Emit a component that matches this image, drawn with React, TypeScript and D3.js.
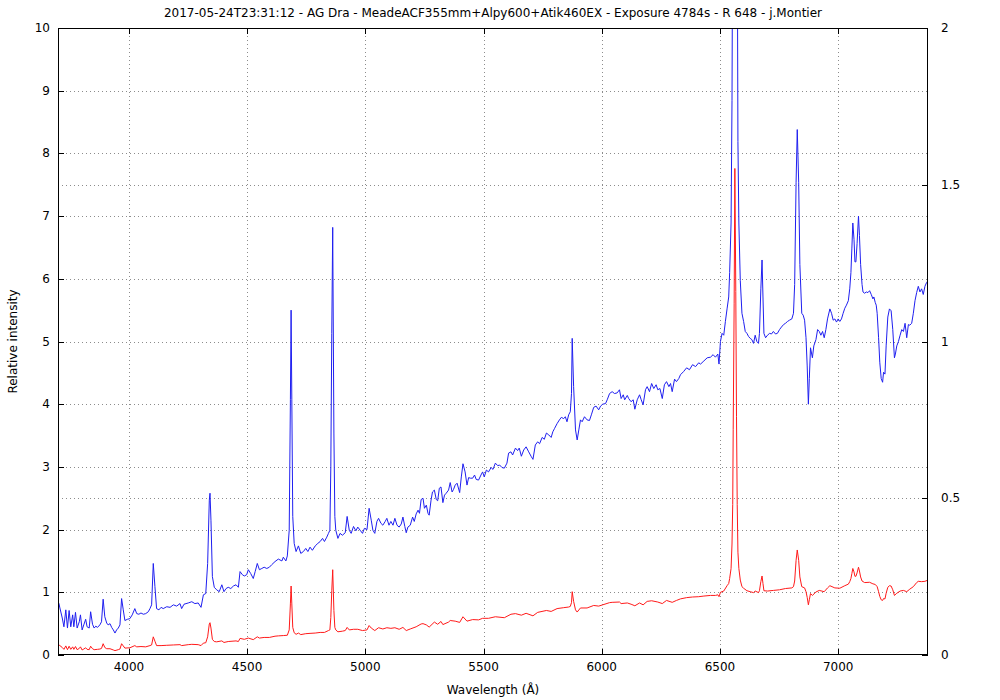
import React from "react";
import * as d3 from "d3";

const chartTitle =
  "2017-05-24T23:31:12 - AG Dra - MeadeACF355mm+Alpy600+Atik460EX - Exposure 4784s - R 648 - j.Montier";
const xAxisTitle = "Wavelength (Å)";
const yAxisTitle = "Relative intensity";

const xTicks = [4000, 4500, 5000, 5500, 6000, 6500, 7000];
const yTicks = [0, 1, 2, 3, 4, 5, 6, 7, 8, 9, 10];
const y2Ticks = [0, 0.5, 1, 1.5, 2];
const xDomain: [number, number] = [3700, 7380];
const yDomain: [number, number] = [0, 10];
const y2Domain: [number, number] = [0, 2];

// Blue spectrum (left axis): [wavelength Å, relative intensity]
const blueSpectrum: [number, number][] = [
  [3700, 0.85], [3704, 0.82], [3708, 0.75], [3718, 0.59], [3725, 0.45], [3733, 0.72], [3740, 0.43],
  [3747, 0.71], [3754, 0.45], [3762, 0.64], [3767, 0.45], [3774, 0.68], [3781, 0.43], [3790, 0.53],
  [3795, 0.64], [3802, 0.40], [3809, 0.48], [3817, 0.57], [3823, 0.45], [3832, 0.43], [3838, 0.69],
  [3846, 0.49], [3853, 0.43], [3860, 0.46], [3867, 0.44], [3877, 0.48], [3884, 0.53], [3891, 0.89],
  [3898, 0.61], [3906, 0.51], [3912, 0.48], [3920, 0.50], [3927, 0.44], [3934, 0.40], [3941, 0.35],
  [3948, 0.40], [3955, 0.43], [3962, 0.48], [3969, 0.90], [3976, 0.72], [3983, 0.55], [3994, 0.57],
  [4004, 0.58], [4014, 0.64], [4025, 0.74], [4033, 0.66], [4042, 0.65], [4051, 0.67], [4061, 0.65],
  [4071, 0.66], [4082, 0.69], [4089, 0.74], [4096, 0.80], [4103, 1.46], [4110, 1.09], [4117, 0.74],
  [4127, 0.72], [4136, 0.76], [4145, 0.74], [4160, 0.77], [4174, 0.76], [4188, 0.80], [4202, 0.78],
  [4216, 0.82], [4223, 0.74], [4233, 0.81], [4251, 0.83], [4266, 0.85], [4279, 0.82], [4293, 0.83],
  [4305, 0.76], [4315, 0.96], [4325, 0.98], [4333, 1.46], [4340, 2.47], [4343, 2.58], [4347, 2.15],
  [4353, 1.25], [4361, 1.08], [4371, 1.04], [4382, 1.01], [4393, 1.12], [4402, 1.01], [4411, 1.06],
  [4420, 1.08], [4431, 1.06], [4442, 1.10], [4453, 1.12], [4463, 1.08], [4470, 1.33], [4480, 1.28],
  [4488, 1.26], [4498, 1.28], [4505, 1.36], [4515, 1.30], [4526, 1.22], [4534, 1.33], [4543, 1.46],
  [4552, 1.36], [4562, 1.38], [4572, 1.40], [4583, 1.38], [4594, 1.40], [4604, 1.44], [4618, 1.49],
  [4632, 1.53], [4647, 1.50], [4653, 1.56], [4664, 1.50], [4670, 1.58], [4678, 1.99], [4683, 4.07],
  [4686, 5.50], [4689, 4.07], [4693, 2.21], [4699, 1.78], [4707, 1.65], [4717, 1.74], [4727, 1.62],
  [4738, 1.65], [4748, 1.70], [4757, 1.65], [4766, 1.72], [4776, 1.67], [4788, 1.74], [4799, 1.78],
  [4809, 1.81], [4819, 1.86], [4827, 1.81], [4837, 1.88], [4844, 1.94], [4850, 1.99], [4854, 3.00],
  [4858, 5.13], [4862, 6.82], [4867, 3.54], [4871, 2.21], [4875, 1.99], [4884, 1.86], [4893, 1.94],
  [4903, 1.91], [4915, 1.95], [4923, 2.21], [4932, 1.99], [4940, 1.94], [4950, 2.05], [4960, 1.98],
  [4968, 2.04], [4978, 1.99], [4988, 1.94], [4996, 2.02], [5007, 2.00], [5016, 2.34], [5025, 2.15],
  [5032, 1.99], [5040, 1.94], [5049, 2.13], [5056, 2.18], [5066, 2.10], [5074, 2.07], [5084, 2.13],
  [5091, 2.18], [5100, 2.07], [5108, 2.13], [5117, 2.07], [5125, 2.18], [5134, 2.07], [5143, 2.04],
  [5152, 2.09], [5159, 2.20], [5167, 2.05], [5173, 1.95], [5180, 2.04], [5190, 2.07], [5200, 2.20],
  [5207, 2.13], [5215, 2.25], [5223, 2.31], [5229, 2.26], [5236, 2.48], [5244, 2.50], [5250, 2.34],
  [5258, 2.39], [5265, 2.26], [5270, 2.23], [5278, 2.47], [5284, 2.60], [5292, 2.63], [5300, 2.48],
  [5306, 2.46], [5313, 2.66], [5320, 2.68], [5328, 2.43], [5335, 2.55], [5342, 2.58], [5352, 2.63],
  [5359, 2.75], [5367, 2.60], [5373, 2.64], [5380, 2.71], [5388, 2.74], [5399, 2.59], [5406, 2.84],
  [5413, 3.05], [5422, 2.92], [5430, 2.71], [5437, 2.83], [5444, 2.82], [5454, 2.82], [5462, 2.87],
  [5469, 2.80], [5479, 2.79], [5489, 2.87], [5496, 2.92], [5503, 2.84], [5512, 2.95], [5521, 2.92],
  [5532, 2.99], [5540, 2.96], [5550, 3.06], [5560, 3.02], [5568, 3.03], [5578, 2.99], [5588, 2.98],
  [5599, 3.06], [5606, 3.22], [5616, 3.24], [5623, 3.19], [5635, 3.30], [5644, 3.26], [5651, 3.30],
  [5660, 3.17], [5670, 3.27], [5680, 3.32], [5691, 3.24], [5701, 3.17], [5709, 3.12], [5719, 3.35],
  [5729, 3.40], [5737, 3.37], [5748, 3.47], [5757, 3.44], [5766, 3.54], [5776, 3.51], [5786, 3.47],
  [5793, 3.56], [5800, 3.61], [5811, 3.69], [5821, 3.75], [5829, 3.79], [5839, 3.77], [5846, 3.80],
  [5853, 3.72], [5860, 3.83], [5867, 3.88], [5872, 4.17], [5875, 5.05], [5881, 4.28], [5889, 3.59],
  [5896, 3.43], [5903, 3.59], [5910, 3.75], [5917, 3.72], [5927, 3.80], [5938, 3.75], [5948, 3.74],
  [5956, 3.83], [5966, 3.95], [5976, 3.97], [5987, 3.91], [5995, 3.97], [6004, 4.00], [6016, 4.01],
  [6023, 4.07], [6033, 4.17], [6044, 4.20], [6054, 4.17], [6065, 4.18], [6075, 4.23], [6082, 4.09],
  [6091, 4.15], [6097, 4.07], [6108, 4.14], [6114, 4.09], [6124, 4.04], [6133, 4.07], [6140, 3.92],
  [6150, 4.07], [6160, 4.15], [6167, 4.07], [6175, 3.99], [6185, 4.23], [6192, 4.28], [6202, 4.20],
  [6211, 4.33], [6220, 4.25], [6230, 4.31], [6237, 4.23], [6246, 4.25], [6256, 4.09], [6265, 4.31],
  [6274, 4.36], [6284, 4.28], [6291, 4.33], [6298, 4.20], [6308, 4.40], [6316, 4.36], [6326, 4.41],
  [6333, 4.47], [6346, 4.52], [6359, 4.58], [6371, 4.55], [6384, 4.63], [6397, 4.60], [6410, 4.66],
  [6418, 4.64], [6432, 4.69], [6446, 4.74], [6460, 4.75], [6471, 4.79], [6481, 4.75], [6491, 4.80],
  [6496, 4.64], [6502, 5.00], [6509, 5.13], [6516, 5.10], [6523, 5.32], [6530, 5.52], [6537, 5.71],
  [6541, 6.10], [6547, 6.89], [6551, 8.84], [6554, 12.0], [6556, 18.0], [6560, 28.0], [6563, 38.8],
  [6567, 29.0], [6570, 19.0], [6573, 12.0], [6576, 8.19], [6580, 6.89], [6586, 5.97], [6593, 5.45],
  [6600, 5.32], [6607, 5.16], [6614, 5.13], [6621, 5.08], [6628, 5.05], [6635, 5.03], [6642, 4.97],
  [6649, 5.10], [6656, 5.00], [6663, 4.97], [6667, 5.13], [6673, 5.84], [6678, 6.30], [6682, 5.71],
  [6686, 5.13], [6693, 5.06], [6701, 5.10], [6710, 5.13], [6718, 5.12], [6726, 5.16], [6735, 5.12],
  [6743, 5.13], [6752, 5.19], [6760, 5.23], [6769, 5.27], [6777, 5.29], [6786, 5.32], [6794, 5.34],
  [6804, 5.36], [6811, 5.45], [6816, 5.91], [6822, 7.54], [6827, 8.38], [6833, 7.54], [6838, 6.23],
  [6846, 5.45], [6852, 5.42], [6858, 5.34], [6864, 5.06], [6869, 4.61], [6874, 4.00], [6878, 4.41],
  [6883, 4.90], [6891, 4.74], [6897, 4.93], [6906, 5.03], [6913, 5.19], [6920, 5.16], [6927, 5.10],
  [6934, 5.16], [6941, 5.06], [6948, 5.19], [6955, 5.36], [6965, 5.52], [6972, 5.45], [6979, 5.34],
  [6986, 5.36], [6993, 5.31], [7000, 5.36], [7007, 5.32], [7014, 5.36], [7021, 5.45], [7028, 5.53],
  [7035, 5.58], [7043, 5.65], [7049, 5.84], [7054, 6.10], [7058, 6.49], [7062, 6.89], [7067, 6.63],
  [7071, 6.27], [7075, 6.27], [7080, 6.56], [7086, 7.00], [7090, 6.69], [7095, 6.23], [7101, 5.91],
  [7105, 5.79], [7112, 5.77], [7119, 5.79], [7126, 5.78], [7133, 5.81], [7140, 5.75], [7147, 5.68],
  [7151, 5.71], [7157, 5.62], [7161, 5.58], [7165, 5.45], [7171, 5.06], [7176, 4.67], [7182, 4.41],
  [7188, 4.35], [7192, 4.51], [7198, 4.48], [7203, 4.93], [7210, 5.39], [7217, 5.52], [7224, 5.49],
  [7231, 5.19], [7238, 4.74], [7242, 4.80], [7248, 4.93], [7255, 5.00], [7262, 5.10], [7269, 5.19],
  [7276, 5.16], [7283, 5.29], [7290, 5.06], [7297, 5.27], [7303, 5.26], [7311, 5.29], [7318, 5.45],
  [7325, 5.65], [7332, 5.78], [7339, 5.88], [7346, 5.79], [7353, 5.84], [7360, 5.75], [7367, 5.88],
  [7374, 5.94], [7380, 5.97],
];

// Red spectrum (right axis): [wavelength Å, intensity]
const redSpectrum: [number, number][] = [
  [3700, 0.034], [3708, 0.030], [3718, 0.024], [3725, 0.018], [3733, 0.029], [3740, 0.017],
  [3747, 0.028], [3754, 0.018], [3762, 0.026], [3767, 0.018], [3774, 0.027], [3781, 0.017],
  [3790, 0.021], [3795, 0.026], [3802, 0.016], [3809, 0.019], [3817, 0.023], [3823, 0.018],
  [3832, 0.017], [3838, 0.028], [3846, 0.020], [3853, 0.017], [3867, 0.018], [3877, 0.019],
  [3884, 0.021], [3891, 0.036], [3898, 0.024], [3906, 0.020], [3920, 0.020], [3934, 0.016],
  [3941, 0.014], [3955, 0.017], [3962, 0.019], [3969, 0.036], [3976, 0.029], [3983, 0.022],
  [4004, 0.023], [4025, 0.030], [4033, 0.026], [4051, 0.027], [4071, 0.026], [4089, 0.030],
  [4096, 0.032], [4103, 0.058], [4110, 0.044], [4117, 0.030], [4136, 0.030], [4160, 0.031],
  [4188, 0.032], [4216, 0.033], [4223, 0.030], [4251, 0.033], [4266, 0.034], [4293, 0.033],
  [4305, 0.030], [4315, 0.038], [4325, 0.039], [4333, 0.058], [4340, 0.099], [4343, 0.103],
  [4347, 0.086], [4353, 0.050], [4361, 0.043], [4371, 0.042], [4393, 0.045], [4402, 0.040],
  [4420, 0.043], [4453, 0.045], [4463, 0.043], [4470, 0.053], [4488, 0.050], [4505, 0.054],
  [4526, 0.049], [4543, 0.058], [4552, 0.054], [4572, 0.056], [4594, 0.056], [4618, 0.060],
  [4632, 0.061], [4653, 0.062], [4670, 0.063], [4678, 0.080], [4683, 0.163], [4686, 0.220],
  [4689, 0.163], [4693, 0.088], [4699, 0.071], [4707, 0.066], [4717, 0.070], [4727, 0.065],
  [4748, 0.068], [4766, 0.069], [4788, 0.070], [4809, 0.072], [4827, 0.072], [4844, 0.078],
  [4850, 0.080], [4854, 0.120], [4858, 0.205], [4862, 0.272], [4867, 0.142], [4871, 0.088],
  [4875, 0.080], [4884, 0.074], [4903, 0.076], [4915, 0.078], [4923, 0.088], [4932, 0.080],
  [4950, 0.082], [4968, 0.082], [4988, 0.078], [5007, 0.080], [5016, 0.094], [5025, 0.086],
  [5040, 0.078], [5056, 0.087], [5074, 0.083], [5091, 0.087], [5108, 0.085], [5125, 0.087],
  [5143, 0.082], [5159, 0.088], [5173, 0.078], [5190, 0.083], [5215, 0.090], [5236, 0.099],
  [5244, 0.100], [5258, 0.096], [5270, 0.089], [5292, 0.105], [5306, 0.098], [5320, 0.107],
  [5328, 0.097], [5352, 0.105], [5359, 0.110], [5380, 0.108], [5399, 0.104], [5413, 0.122],
  [5430, 0.108], [5454, 0.113], [5479, 0.112], [5496, 0.117], [5521, 0.117], [5550, 0.122],
  [5588, 0.119], [5616, 0.130], [5635, 0.132], [5660, 0.127], [5680, 0.133], [5709, 0.125],
  [5729, 0.136], [5766, 0.142], [5786, 0.139], [5811, 0.148], [5839, 0.151], [5860, 0.153],
  [5867, 0.155], [5872, 0.167], [5875, 0.202], [5881, 0.171], [5889, 0.144], [5896, 0.137],
  [5910, 0.150], [5938, 0.150], [5966, 0.158], [5987, 0.156], [6004, 0.160], [6033, 0.167],
  [6044, 0.168], [6075, 0.169], [6082, 0.164], [6108, 0.166], [6124, 0.162], [6140, 0.157],
  [6160, 0.166], [6175, 0.160], [6192, 0.171], [6211, 0.173], [6237, 0.169], [6256, 0.164],
  [6274, 0.174], [6298, 0.168], [6316, 0.174], [6333, 0.179], [6359, 0.183], [6384, 0.185],
  [6410, 0.186], [6432, 0.188], [6460, 0.190], [6481, 0.190], [6491, 0.192], [6496, 0.186],
  [6502, 0.200], [6516, 0.204], [6530, 0.221], [6537, 0.228], [6541, 0.244], [6547, 0.276],
  [6551, 0.354], [6554, 0.48], [6556, 0.72], [6560, 1.12], [6563, 1.552], [6567, 1.16],
  [6570, 0.76], [6573, 0.48], [6576, 0.328], [6580, 0.276], [6586, 0.239], [6593, 0.218],
  [6600, 0.213], [6614, 0.205], [6628, 0.202], [6642, 0.199], [6649, 0.204], [6663, 0.199],
  [6667, 0.205], [6673, 0.234], [6678, 0.252], [6682, 0.228], [6686, 0.205], [6701, 0.204],
  [6726, 0.206], [6752, 0.208], [6777, 0.212], [6804, 0.214], [6811, 0.218], [6816, 0.236],
  [6822, 0.302], [6827, 0.335], [6833, 0.302], [6838, 0.249], [6846, 0.218], [6858, 0.214],
  [6864, 0.202], [6869, 0.184], [6874, 0.160], [6878, 0.176], [6883, 0.196], [6891, 0.190],
  [6906, 0.201], [6920, 0.206], [6941, 0.202], [6955, 0.214], [6965, 0.221], [6986, 0.214],
  [7007, 0.213], [7028, 0.221], [7043, 0.226], [7049, 0.234], [7054, 0.244], [7058, 0.260],
  [7062, 0.276], [7067, 0.265], [7071, 0.251], [7075, 0.251], [7080, 0.262], [7086, 0.280],
  [7090, 0.268], [7095, 0.249], [7101, 0.236], [7112, 0.231], [7133, 0.232], [7147, 0.227],
  [7157, 0.225], [7165, 0.218], [7171, 0.202], [7176, 0.187], [7182, 0.176], [7188, 0.174],
  [7192, 0.180], [7198, 0.179], [7203, 0.197], [7210, 0.216], [7217, 0.221], [7224, 0.220],
  [7231, 0.208], [7238, 0.190], [7248, 0.197], [7262, 0.204], [7276, 0.206], [7290, 0.202],
  [7303, 0.210], [7318, 0.218], [7332, 0.231], [7339, 0.235], [7353, 0.234], [7367, 0.235],
  [7380, 0.239],
];

const W = 1000;
const H = 700;
const plot = { left: 58, right: 928, top: 28, bottom: 655 };
const FONT = "'DejaVu Sans', sans-serif";
const TICK = 6;

export default function App() {
  const x = d3.scaleLinear().domain(xDomain).range([plot.left, plot.right]);
  const y = d3.scaleLinear().domain(yDomain).range([plot.bottom, plot.top]);
  const y2 = d3.scaleLinear().domain(y2Domain).range([plot.bottom, plot.top]);

  const blueLine = d3
    .line<[number, number]>()
    .x((d) => x(d[0]))
    .y((d) => y(d[1]));
  const redLine = d3
    .line<[number, number]>()
    .x((d) => x(d[0]))
    .y((d) => y2(d[1]));

  const gridColor = "#8c8c8c";
  const gridDash = "1,3";

  const yGrid = yTicks.filter((t) => t > yDomain[0] && t < yDomain[1]);
  const y2Grid = y2Ticks.filter(
    (t) => t > y2Domain[0] && t < y2Domain[1] && !yGrid.some((g) => Math.abs(y(g) - y2(t)) < 0.5)
  );

  return (
    <div style={{ position: "absolute", left: 0, top: 0 }}>
      <svg width={W} height={H} style={{ display: "block", background: "#fff" }} fontFamily={FONT}>
        <defs>
          <clipPath id="plotClip">
            <rect x={plot.left} y={plot.top} width={plot.right - plot.left} height={plot.bottom - plot.top} />
          </clipPath>
        </defs>
        <rect x={0} y={0} width={W} height={H} fill="#fff" />

        {/* grid */}
        <g stroke={gridColor} strokeWidth={1} strokeDasharray={gridDash} shapeRendering="crispEdges">
          {xTicks.map((t) => (
            <line key={"gx" + t} x1={Math.round(x(t)) + 0.5} x2={Math.round(x(t)) + 0.5} y1={plot.top} y2={plot.bottom} />
          ))}
          {yGrid.map((t) => (
            <line key={"gy" + t} x1={plot.left} x2={plot.right} y1={Math.round(y(t)) + 0.5} y2={Math.round(y(t)) + 0.5} />
          ))}
          {y2Grid.map((t) => (
            <line key={"gy2" + t} x1={plot.left} x2={plot.right} y1={Math.round(y2(t)) + 0.5} y2={Math.round(y2(t)) + 0.5} />
          ))}
        </g>

        {/* data */}
        <g clipPath="url(#plotClip)" fill="none" strokeWidth={1} strokeLinejoin="round">
          <path d={blueLine(blueSpectrum) || ""} stroke="#1f1ff0" />
          <path d={redLine(redSpectrum) || ""} stroke="#ff1a1a" />
        </g>

        {/* border */}
        <rect
          x={plot.left + 0.5}
          y={plot.top + 0.5}
          width={plot.right - plot.left - 1}
          height={plot.bottom - plot.top - 1}
          fill="none"
          stroke="#000"
          strokeWidth={1}
          shapeRendering="crispEdges"
        />

        {/* ticks */}
        <g stroke="#000" strokeWidth={1} shapeRendering="crispEdges">
          {xTicks.map((t) => (
            <g key={"tx" + t}>
              <line x1={Math.round(x(t)) + 0.5} x2={Math.round(x(t)) + 0.5} y1={plot.bottom} y2={plot.bottom - TICK} />
              <line x1={Math.round(x(t)) + 0.5} x2={Math.round(x(t)) + 0.5} y1={plot.top} y2={plot.top + TICK} />
            </g>
          ))}
          {yTicks.map((t) => (
            <line key={"ty" + t} x1={plot.left} x2={plot.left + TICK} y1={Math.round(y(t)) + 0.5} y2={Math.round(y(t)) + 0.5} />
          ))}
          {y2Ticks.map((t) => (
            <line key={"ty2" + t} x1={plot.right} x2={plot.right - TICK} y1={Math.round(y2(t)) + 0.5} y2={Math.round(y2(t)) + 0.5} />
          ))}
        </g>

        {/* tick labels */}
        <g fontSize={12} fill="#000">
          {xTicks.map((t) => (
            <text key={"lx" + t} x={x(t)} y={plot.bottom + 16} textAnchor="middle">
              {t}
            </text>
          ))}
          {yTicks.map((t) => (
            <text key={"ly" + t} x={plot.left - 8} y={y(t) + 4} textAnchor="end">
              {t}
            </text>
          ))}
          {y2Ticks.map((t) => (
            <text key={"ly2" + t} x={plot.right + 13} y={y2(t) + 4} textAnchor="start">
              {t}
            </text>
          ))}
        </g>

        {/* titles */}
        <text x={(plot.left + plot.right) / 2} y={17} textAnchor="middle" fontSize={12} fill="#000">
          {chartTitle}
        </text>
        <text x={(plot.left + plot.right) / 2} y={694} textAnchor="middle" fontSize={12} fill="#000">
          {xAxisTitle}
        </text>
        <text
          transform={`translate(17, ${(plot.top + plot.bottom) / 2}) rotate(-90)`}
          textAnchor="middle"
          fontSize={12}
          fill="#000"
        >
          {yAxisTitle}
        </text>
      </svg>
    </div>
  );
}
